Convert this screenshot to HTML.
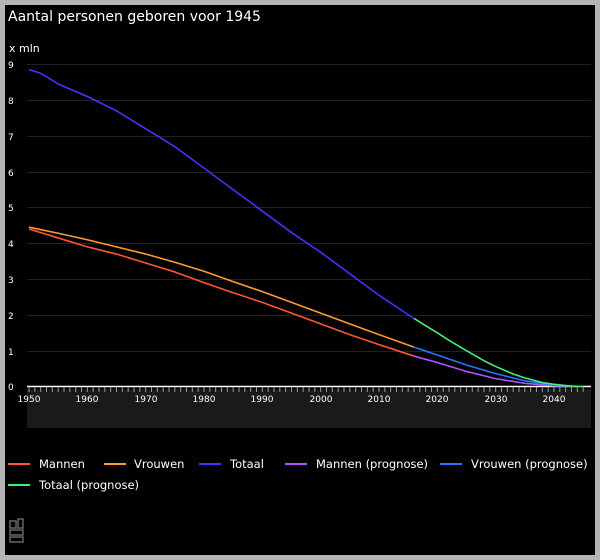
<!DOCTYPE html>
<html><head><style>
html,body{margin:0;padding:0;background:#b4b4b4;}
svg{display:block;}
text{font-family:"DejaVu Sans","Liberation Sans",sans-serif;fill:#fff;}
</style></head><body>
<svg width="600" height="560" viewBox="0 0 600 560">
<rect x="0" y="0" width="600" height="560" fill="#b4b4b4"/>
<rect x="5" y="5" width="590" height="550" fill="#000"/>
<text x="8" y="21" font-size="14">Aantal personen geboren voor 1945</text>
<text x="9" y="52" font-size="11">x mln</text>
<g font-size="9" fill="#ddd">
<text x="8" y="68">9</text><text x="8" y="104">8</text><text x="8" y="140">7</text><text x="8" y="176">6</text><text x="8" y="211">5</text><text x="8" y="247">4</text><text x="8" y="283">3</text><text x="8" y="319">2</text><text x="8" y="355">1</text><text x="8" y="390">0</text>
</g>
<g stroke="#222" stroke-width="1">
<line x1="27" x2="591" y1="64.5" y2="64.5"/><line x1="27" x2="591" y1="100.5" y2="100.5"/><line x1="27" x2="591" y1="136.5" y2="136.5"/><line x1="27" x2="591" y1="172.5" y2="172.5"/><line x1="27" x2="591" y1="207.5" y2="207.5"/><line x1="27" x2="591" y1="243.5" y2="243.5"/><line x1="27" x2="591" y1="279.5" y2="279.5"/><line x1="27" x2="591" y1="315.5" y2="315.5"/><line x1="27" x2="591" y1="351.5" y2="351.5"/>
</g>
<rect x="27" y="389" width="564" height="39" fill="#1a1a1a"/>
<line x1="27" x2="591" y1="386.5" y2="386.5" stroke="#fff" stroke-width="1.5"/>
<g id="ticks" stroke="#999" stroke-width="1"></g>
<g font-size="9" fill="#ddd" text-anchor="middle">
<text x="29" y="402">1950</text><text x="87" y="402">1960</text><text x="146" y="402">1970</text><text x="204" y="402">1980</text><text x="262" y="402">1990</text><text x="321" y="402">2000</text><text x="379" y="402">2010</text><text x="437" y="402">2020</text><text x="496" y="402">2030</text><text x="554" y="402">2040</text>
</g>
<g fill="none" stroke-width="1.6" stroke-linejoin="round" id="lines"></g>
<g font-size="11.5">
<line x1="8" x2="30" y1="464" y2="464" stroke="#ff5533" stroke-width="2"/><text x="39" y="468">Mannen</text>
<line x1="104" x2="126" y1="464" y2="464" stroke="#ff9933" stroke-width="2"/><text x="134" y="468">Vrouwen</text>
<line x1="199" x2="221" y1="464" y2="464" stroke="#4433ff" stroke-width="2"/><text x="230" y="468">Totaal</text>
<line x1="285" x2="307" y1="464" y2="464" stroke="#aa55ff" stroke-width="2"/><text x="316" y="468">Mannen (prognose)</text>
<line x1="440" x2="462" y1="464" y2="464" stroke="#2277ff" stroke-width="2"/><text x="471" y="468">Vrouwen (prognose)</text>
<line x1="8" x2="30" y1="485" y2="485" stroke="#44ee77" stroke-width="2"/><text x="39" y="489">Totaal (prognose)</text>
</g>
<g fill="none" stroke="#666" stroke-width="1.5">
<rect x="10" y="521" width="6" height="7"/><rect x="10" y="530" width="13" height="5"/><rect x="18" y="519" width="5" height="9"/><rect x="10" y="537" width="13" height="5"/>
</g>
</svg>
<script>
const X=y=>29+(y-1950)*5.833, Y=v=>386.5-v*35.8;
const t=document.getElementById('ticks');
for(let y=1950;y<=2045;y++){const l=document.createElementNS('http://www.w3.org/2000/svg','line');l.setAttribute('x1',X(y));l.setAttribute('x2',X(y));l.setAttribute('y1',387);l.setAttribute('y2',392);t.appendChild(l);}
const S=[
['#ff5533',[[1950,4.4],[1955,4.15],[1960,3.9],[1965,3.7],[1970,3.45],[1975,3.2],[1980,2.9],[1985,2.62],[1990,2.35],[1995,2.05],[2000,1.75],[2005,1.45],[2010,1.17],[2016,0.85]]],
['#ff9933',[[1950,4.45],[1955,4.28],[1960,4.1],[1965,3.9],[1970,3.7],[1975,3.47],[1980,3.22],[1985,2.93],[1990,2.65],[1995,2.35],[2000,2.05],[2005,1.75],[2010,1.45],[2016,1.1]]],
['#4433ff',[[1950,8.85],[1952,8.75],[1955,8.45],[1960,8.1],[1965,7.7],[1970,7.2],[1975,6.7],[1980,6.1],[1985,5.5],[1990,4.9],[1995,4.3],[2000,3.75],[2005,3.15],[2010,2.55],[2016,1.9]]],
['#aa55ff',[[2016,0.85],[2018,0.76],[2020,0.67],[2025,0.42],[2030,0.22],[2035,0.09],[2040,0.02],[2045,0]]],
['#2277ff',[[2016,1.1],[2018,0.99],[2020,0.88],[2025,0.6],[2030,0.36],[2035,0.16],[2040,0.04],[2045,0]]],
['#44ee77',[[2016,1.9],[2018,1.7],[2020,1.5],[2022,1.29],[2025,1.0],[2028,0.72],[2030,0.56],[2033,0.35],[2035,0.24],[2038,0.11],[2040,0.06],[2043,0.01],[2045,0]]]];
const g=document.getElementById('lines');
S.forEach(([c,p])=>{const e=document.createElementNS('http://www.w3.org/2000/svg','polyline');e.setAttribute('points',p.map(q=>X(q[0])+','+Y(q[1])).join(' '));e.setAttribute('stroke',c);g.appendChild(e);});
</script>
</body></html>
